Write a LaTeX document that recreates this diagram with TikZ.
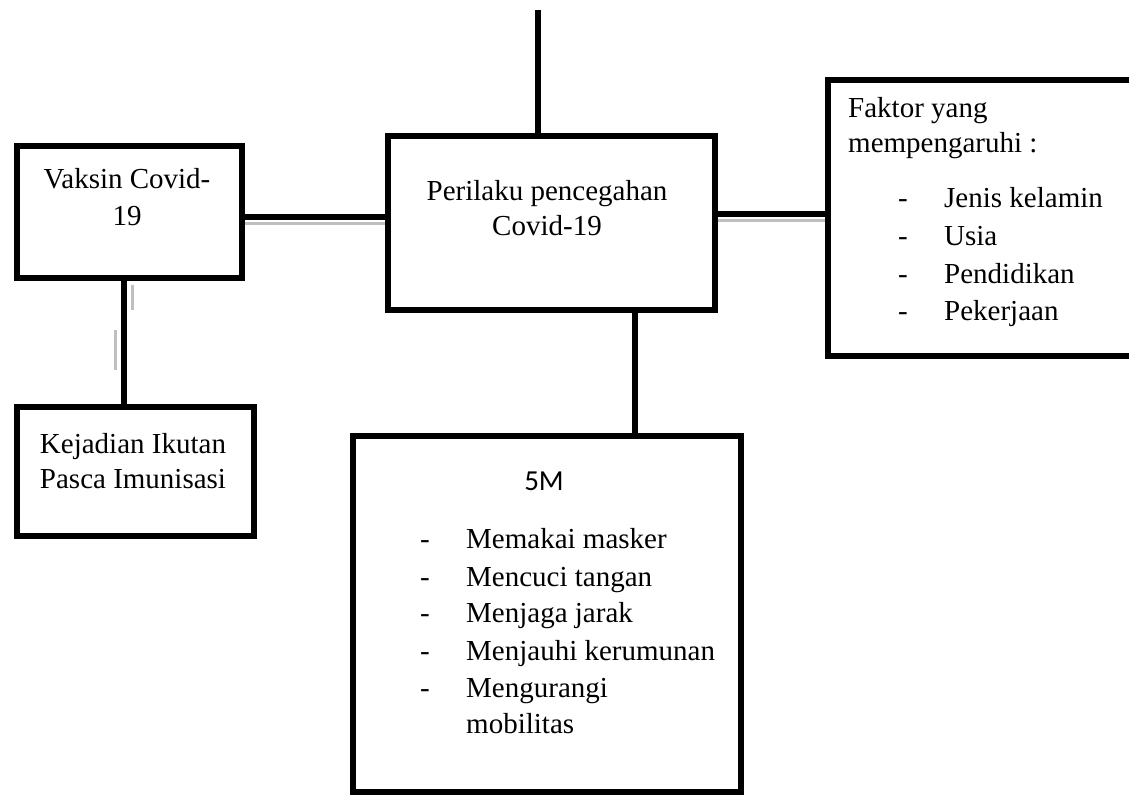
\documentclass[tikz,border=0pt]{standalone}
\usepackage{fontspec}
\setmainfont{Liberation Serif}
\newfontfamily\calibri{Carlito}
\begin{document}
\begin{tikzpicture}[x=1pt,y=-1pt,
  box/.style={draw=black,line width=5.5pt,fill=white,inner sep=0pt,anchor=north west},
  conn/.style={draw=black,line width=5.5pt},
  ghost/.style={draw=black!25,line width=3pt},
  txt/.style={inner sep=0pt,font=\fontsize{29}{37}\selectfont},
  lst/.style={txt,anchor=base west}]
\clip (0,0) rectangle (1129,796);
\fill[white] (0,0) rectangle (1129,796);

% boxes
\node[box,minimum width=225pt,minimum height=132pt] (vaksin) at (14,143) {};
\node[box,minimum width=237pt,minimum height=129pt] (kipi) at (14,404) {};
\node[box,minimum width=327pt,minimum height=174pt] (perilaku) at (385,133) {};
\node[box,minimum width=320pt,minimum height=276pt] (faktor) at (825,77) {};
\node[box,minimum width=388pt,minimum height=356pt] (lima) at (350,433) {};
\coordinate (top) at (538,10);

% connectors
\draw[ghost] (vaksin.east |- 0,223) -- (perilaku.west |- 0,223);
\draw[conn] (vaksin.east |- 0,217) -- (perilaku.west |- 0,217);
\draw[ghost] (perilaku.east |- 0,220) -- (faktor.west |- 0,220);
\draw[conn] (perilaku.east |- 0,214) -- (faktor.west |- 0,214);
\draw[ghost] (132,285) -- (132,310);
\draw[ghost] (115,330) -- (115,370);
\draw[conn] (vaksin.south -| 124,0) -- (kipi.north -| 124,0);
\draw[conn] (perilaku.south -| 635,0) -- (lima.north -| 635,0);
\draw[conn] (top) -- (perilaku.north -| top);

% texts
\node[txt,anchor=base] (t1a) at (127,188) {Vaksin Covid-};
\node[txt,anchor=base] (t1b) at (127,225) {19};
\node[txt,anchor=base] (t2a) at (133,453) {Kejadian Ikutan};
\node[txt,anchor=base] (t2b) at (133,488) {Pasca Imunisasi};
\node[txt,anchor=base] (t3a) at (547,200) {Perilaku pencegahan};
\node[txt,anchor=base] (t3b) at (547,235) {Covid-19};

\node[lst] (f0) at (848,117) {Faktor yang};
\node[lst] (f1) at (848,152) {mempengaruhi :};
\foreach \y/\t [count=\i] in {207/Jenis kelamin,245/Usia,283/Pendidikan,320/Pekerjaan}{
  \node[lst] (fd\i) at (898,\y) {-};
  \node[lst] (fi\i) at (944,\y) {\t};
}

\node[txt,anchor=base,font=\calibri\fontsize{29}{35}\selectfont] (m0) at (544,490) {5M};
\foreach \y/\t [count=\i] in {548/Memakai masker,586/Mencuci tangan,622/Menjaga jarak,660/Menjauhi kerumunan,697/Mengurangi}{
  \node[lst] (md\i) at (420,\y) {-};
  \node[lst] (mi\i) at (466,\y) {\t};
}
\node[lst] (mi6) at (466,733) {mobilitas};
\end{tikzpicture}
\end{document}
